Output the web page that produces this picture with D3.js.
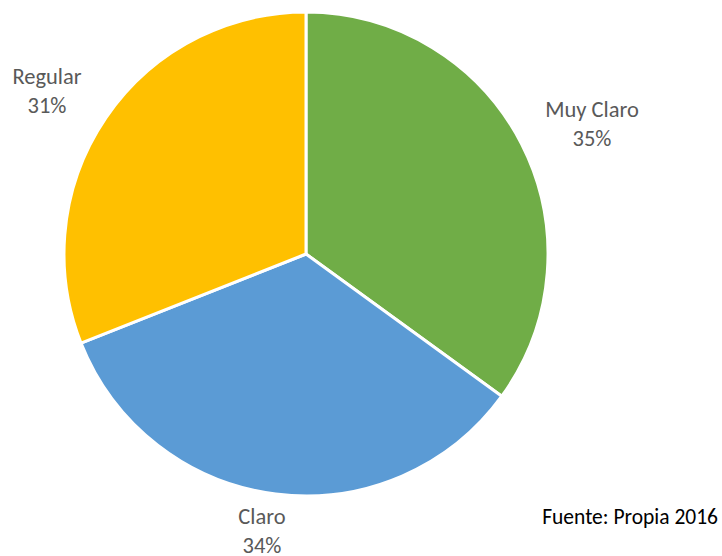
<!DOCTYPE html>
<html><head><meta charset="utf-8">
<script src="https://cdn.jsdelivr.net/npm/d3@7"></script>
<style>body{margin:0;background:#fff}svg{display:block}</style>
</head><body>
<svg id="c" width="722" height="556"></svg>
<script>
const categories = ["Muy Claro", "Claro", "Regular"];
const values = [35, 34, 31];
const colors = ["#70AD47", "#5B9BD5", "#FFC000"];
const labelPos = [[592, 117], [262, 524], [47, 84]];

const svg = d3.select("#c");
const cx = 306, cy = 254, r = 242;
const pie = d3.pie().sort(null).value(d => d.v);
const data = pie(categories.map((c, i) => ({c, v: values[i], i})));
const arc = d3.arc().innerRadius(0).outerRadius(r);
const g = svg.append("g").attr("transform", `translate(${cx},${cy})`);
g.selectAll("path").data(data).join("path")
  .attr("d", arc).attr("fill", d => colors[d.data.i])
  .attr("stroke", "#fff").attr("stroke-width", 3).attr("stroke-linejoin", "round");

const font = "Carlito, Lato, sans-serif";
data.forEach(d => {
  const [x, y] = labelPos[d.data.i];
  const t = svg.append("text").attr("x", x).attr("y", y)
    .attr("text-anchor", "middle").attr("fill", "#595959")
    .style("font-family", font).style("font-size", "22.5px");
  t.append("tspan").attr("x", x).text(d.data.c);
  t.append("tspan").attr("x", x).attr("dy", "29px").text(d.data.v + "%");
});
svg.append("text").attr("x", 718).attr("y", 524).attr("text-anchor", "end")
  .attr("fill", "#000").style("font-family", font).style("font-size", "21.5px")
  .text("Fuente: Propia 2016");
</script>
</body></html>
